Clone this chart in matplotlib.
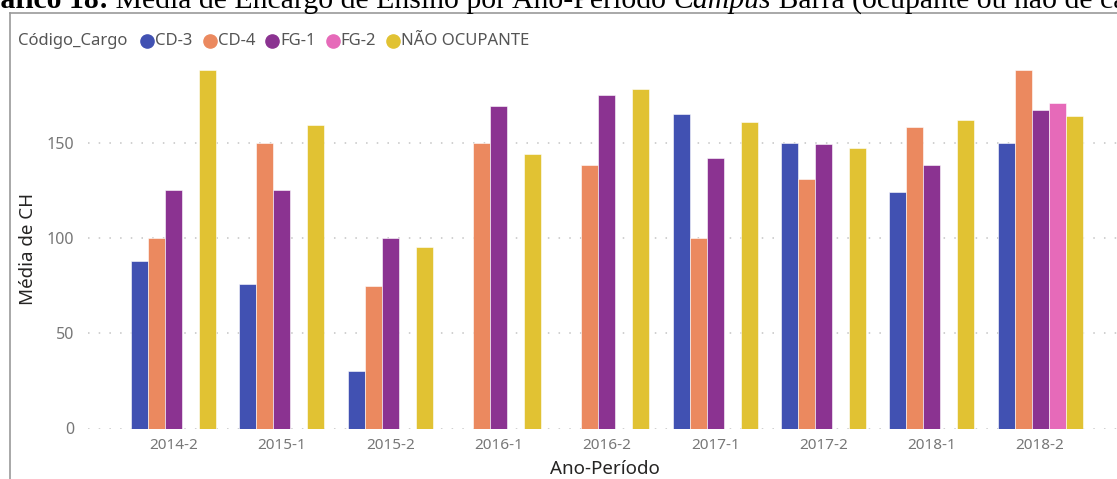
import matplotlib
matplotlib.use("Agg")
import numpy as np
import matplotlib.pyplot as plt
from matplotlib.lines import Line2D

# --- dados ---
periodos = ["2014-2", "2015-1", "2015-2", "2016-1", "2016-2",
            "2017-1", "2017-2", "2018-1", "2018-2"]
cargos = ["CD-3", "CD-4", "FG-1", "FG-2", "NÃO OCUPANTE"]
cd3 = [88, 76, 30, np.nan, np.nan, 165, 150, 124, 150]
cd4 = [100, 150, 75, 150, 138, 100, 131, 158, 188]
fg1 = [125, 125, 100, 169, 175, 142, 149, 138, 167]
fg2 = [np.nan] * 8 + [171]
nao_ocupante = [188, 159, 95, 144, 178, 161, 147, 162, 164]
yticks = [0, 50, 100, 150]

series = [cd3, cd4, fg1, fg2, nao_ocupante]
cores = ["#4151B2", "#EB895F", "#8B3391", "#E66AB9", "#E1C233"]

W, H = 1117, 479
fig = plt.figure(figsize=(W / 100, H / 100), dpi=100)
fig.patch.set_facecolor("white")
ui_font = ["Noto Sans", "DejaVu Sans"]

# área do gráfico (em pixels da figura)
px_left, px_right, px_bottom, px_top = 88, 1117, 428.5, 56.8
ax = fig.add_axes([px_left / W, 1 - px_bottom / H,
                   (px_right - px_left) / W, (px_bottom - px_top) / H])

x = np.arange(len(periodos))
largura = 0.157
for k, (valores, cor) in enumerate(zip(series, cores)):
    ax.bar(x + (k - 2) * largura, valores, width=largura, color=cor,
           edgecolor="white", linewidth=0.4, zorder=3, label=cargos[k])

ax.set_xlim(-0.79, 8.71)
ax.set_ylim(0, 195)
ax.set_yticks(yticks)
ax.set_xticks(x)
ax.set_xticklabels(periodos)
for s in ax.spines.values():
    s.set_visible(False)
ax.grid(axis="y", linestyle=(0, (1, 6)), color="#C4C4C4", linewidth=1.1, zorder=0)
ax.tick_params(length=0, labelcolor="#777777", labelsize=11)
ax.tick_params(axis="y", pad=10, labelsize=11.5)
ax.tick_params(axis="x", pad=7)
for lb in ax.get_xticklabels() + ax.get_yticklabels():
    lb.set_family(ui_font)

fig.text(28 / W, 1 - 249 / H, "Média de CH", rotation=90, ha="center", va="center",
         fontsize=13.5, color="#252423", family=ui_font)
fig.text(605 / W, 1 - 469 / H, "Ano-Período", ha="center", va="center",
         fontsize=13.5, color="#252423", family=ui_font)

# moldura do visual
fig.add_artist(Line2D([10 / W, 10 / W], [0, 1 - 12.5 / H], color="#9A9A9A", lw=1.2))
fig.add_artist(Line2D([10 / W, 1], [1 - 12.5 / H, 1 - 12.5 / H], color="#9A9A9A", lw=1.2))

# legenda no topo
fig.canvas.draw()
renderer = fig.canvas.get_renderer()
ly = 1 - 41 / H
t = fig.text(18 / W, ly, "Código_Cargo", fontsize=12, fontweight="bold",
             color="#555555", va="center", family=ui_font)
cursor = t.get_window_extent(renderer).x1 + 20
for nome, cor in zip(cargos, cores):
    fig.add_artist(Line2D([cursor / W], [ly], marker="o", markersize=9.5,
                          color=cor, linestyle="none"))
    tt = fig.text((cursor + 8) / W, ly, nome, fontsize=12, color="#555555",
                  va="center", family=ui_font)
    cursor = tt.get_window_extent(renderer).x1 + 17

# legenda do documento (cortada no topo da imagem, como no original)
partes = [("Gráfico 18:", "bold", "normal"),
          (" Média de Encargo de Ensino por Ano-Período ", "normal", "normal"),
          ("Campus", "normal", "italic"),
          (" Barra (ocupante ou não de cargo)", "normal", "normal")]
serif = ["Liberation Serif", "DejaVu Serif"]
cap_size = 21.4
medida = fig.text(0, 0, "Gr", fontsize=cap_size, fontweight="bold", family=serif)
xcur = -medida.get_window_extent(renderer).width
medida.remove()
base = 1 - 8 / H
for texto, peso, estilo in partes:
    tt = fig.text(xcur / W, base, texto, fontsize=cap_size, fontweight=peso,
                  style=estilo, va="baseline", family=serif, color="black")
    xcur = tt.get_window_extent(renderer).x1

fig.savefig("out.png", dpi=100)
